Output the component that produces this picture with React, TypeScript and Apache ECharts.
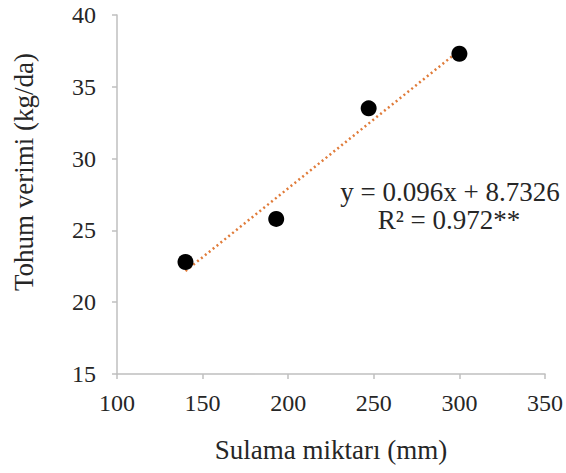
import React, { useEffect, useRef } from "react";
import * as echarts from "echarts";

const irrigation = [140, 193, 247, 300];
const seedYield = [22.8, 25.8, 33.5, 37.3];
const slope = 0.096;
const intercept = 8.7326;
const equationText = "y = 0.096x + 8.7326";
const r2Text = "R² = 0.972**";
const xTitle = "Sulama miktarı (mm)";
const yTitle = "Tohum verimi (kg/da)";

const FONT = "Liberation Serif";
const TEXT = "#262626";

export default function App() {
  const ref = useRef<HTMLDivElement>(null);
  useEffect(() => {
    if (!ref.current) return;
    document.body.style.margin = "0";
    document.body.style.overflow = "hidden";
    const chart = echarts.init(ref.current, null, { renderer: "svg" });
    const xMin = Math.min(...irrigation);
    const xMax = Math.max(...irrigation);
    const trend = [
      [xMin, slope * xMin + intercept],
      [xMax, slope * xMax + intercept],
    ];
    chart.setOption({
      animation: false,
      backgroundColor: "#ffffff",
      textStyle: { fontFamily: FONT },
      grid: { left: 117, right: 18, top: 15, bottom: 99, containLabel: false },
      xAxis: {
        type: "value",
        min: 100,
        max: 350,
        interval: 50,
        name: xTitle,
        nameLocation: "middle",
        nameGap: 62,
        nameTextStyle: { fontFamily: FONT, fontSize: 27, color: TEXT },
        axisLine: { show: true, lineStyle: { color: "#BFBFBF", width: 1.5 } },
        axisTick: { show: true, length: 5, lineStyle: { color: "#BFBFBF", width: 1.5 } },
        splitLine: { show: false },
        axisLabel: { fontFamily: FONT, fontSize: 24, color: TEXT, margin: 17 },
      },
      yAxis: {
        type: "value",
        min: 15,
        max: 40,
        interval: 5,
        axisLine: { show: true, lineStyle: { color: "#BFBFBF", width: 1.5 } },
        axisTick: { show: true, length: 5, lineStyle: { color: "#BFBFBF", width: 1.5 } },
        splitLine: { show: false },
        axisLabel: { fontFamily: FONT, fontSize: 24, color: TEXT, margin: 21 },
      },
      graphic: [
        {
          type: "text",
          x: 24,
          y: 172,
          rotation: Math.PI / 2,
          style: {
            text: yTitle,
            fontFamily: FONT,
            fontSize: 27,
            fill: TEXT,
            align: "center",
            verticalAlign: "middle",
          },
        },
        {
          type: "text",
          x: 450,
          y: 192,
          style: {
            text: equationText,
            fontFamily: FONT,
            fontSize: 27,
            fill: TEXT,
            align: "center",
            verticalAlign: "middle",
          },
        },
        {
          type: "text",
          x: 449,
          y: 220,
          style: {
            text: r2Text,
            fontFamily: FONT,
            fontSize: 27,
            fill: TEXT,
            align: "center",
            verticalAlign: "middle",
          },
        },
      ],
      series: [
        {
          type: "line",
          data: trend,
          symbol: "none",
          lineStyle: { color: "#E07B39", width: 2.5, type: [2, 3] },
          z: 2,
        },
        {
          type: "scatter",
          data: irrigation.map((x, i) => [x, seedYield[i]]),
          symbolSize: 16,
          itemStyle: { color: "#000000", opacity: 1 },
          z: 3,
        },
      ],
    });
    return () => chart.dispose();
  }, []);
  return <div ref={ref} style={{ width: 566, height: 473 }} />;
}
